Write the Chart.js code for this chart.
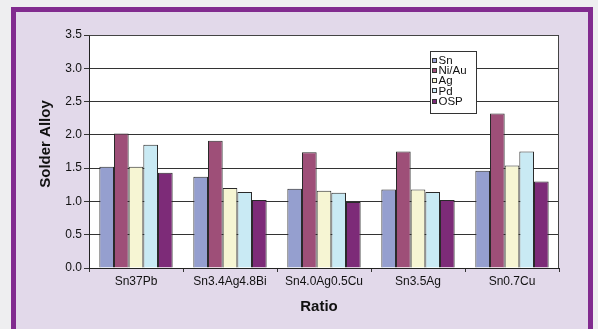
<!DOCTYPE html>
<html>
<head>
<meta charset="utf-8">
<script src="https://cdn.jsdelivr.net/npm/chart.js@4/dist/chart.umd.min.js"></script>
<style>
  html, body { margin: 0; padding: 0; background: #eeeef0; width: 598px; height: 329px; overflow: hidden; }
  .frame {
    position: absolute; left: 11px; top: 7px;
    width: 572px; height: 400px;
    border: 5px solid #812b8f; border-bottom: none;
    background: #e2d9ea;
  }
  .box { position: absolute; left: 0; top: 0; width: 572px; height: 316px; }
</style>
</head>
<body>
<div class="frame">
  <div class="box"><canvas id="c"></canvas></div>
</div>
<script>
// Solder alloys on the x axis, one bar per surface finish
const categories = ['Sn37Pb', 'Sn3.4Ag4.8Bi', 'Sn4.0Ag0.5Cu', 'Sn3.5Ag', 'Sn0.7Cu'];
const seriesNames = ['Sn', 'Ni/Au', 'Ag', 'Pd', 'OSP'];
const snValues   = [1.52, 1.37, 1.19, 1.18, 1.46];
const niauValues = [2.02, 1.91, 1.74, 1.75, 2.32];
const agValues   = [1.52, 1.20, 1.16, 1.18, 1.54];
const pdValues   = [1.85, 1.14, 1.13, 1.14, 1.75];
const ospValues  = [1.43, 1.02, 0.99, 1.02, 1.30];
const yTicks = [0, 0.5, 1.0, 1.5, 2.0, 2.5, 3.0, 3.5];
const xTitle = 'Ratio';
const yTitle = 'Solder Alloy';

const colors = ['#959fcf', '#9e4f78', '#f6f5d3', '#c9eaf4', '#7d2b78'];
const allValues = [snValues, niauValues, agValues, pdValues, ospValues];

const FONT = 'Liberation Sans, Arial, Helvetica, sans-serif';

// White plot background plus the top/right frame of the plot area
const plotFrame = {
  id: 'plotFrame',
  beforeDraw(chart) {
    const { ctx, chartArea: a } = chart;
    ctx.save();
    ctx.fillStyle = '#ffffff';
    ctx.fillRect(a.left, a.top, a.right - a.left, a.bottom - a.top);
    ctx.restore();
  },
  afterDraw(chart) {
    const { ctx, chartArea: a } = chart;
    ctx.save();
    ctx.strokeStyle = '#444';
    ctx.lineWidth = 1;
    ctx.beginPath();
    ctx.moveTo(Math.round(a.left) + 0.5, Math.round(a.top) + 0.5);
    ctx.lineTo(Math.round(a.right) - 0.5, Math.round(a.top) + 0.5);
    ctx.lineTo(Math.round(a.right) - 0.5, Math.round(a.bottom));
    ctx.stroke();
    ctx.restore();
  }
};

// Axis titles, placed relative to the plot area
const axisTitles = {
  id: 'axisTitles',
  afterDraw(chart) {
    const { ctx, chartArea: a } = chart;
    ctx.save();
    ctx.fillStyle = '#111';
    ctx.font = 'bold 15px ' + FONT;
    ctx.textAlign = 'center';
    ctx.textBaseline = 'middle';
    ctx.fillText(xTitle, a.left + 230, a.bottom + 39);
    ctx.translate(a.left - 43, a.top + 109);
    ctx.rotate(-Math.PI / 2);
    ctx.fillText(yTitle, 0, 0);
    ctx.restore();
  }
};

// Boxed legend sitting inside the plot area, upper right
const boxLegend = {
  id: 'boxLegend',
  afterDraw(chart) {
    const { ctx, chartArea: a } = chart;
    const x = Math.round(a.left + 341) + 0.5;
    const y = Math.round(a.top + 16) + 0.5;
    const w = 46, h = 62;
    ctx.save();
    ctx.fillStyle = '#ffffff';
    ctx.fillRect(x, y, w, h);
    ctx.strokeStyle = '#333';
    ctx.lineWidth = 1;
    ctx.strokeRect(x, y, w, h);
    ctx.font = '11.5px ' + FONT;
    ctx.textBaseline = 'middle';
    chart.data.datasets.forEach((ds, i) => {
      const cy = y + 9 + i * 10.3;
      ctx.fillStyle = ds.backgroundColor;
      ctx.fillRect(x + 2, Math.round(cy - 3) + 0.5, 4, 4);
      ctx.strokeStyle = '#333';
      ctx.strokeRect(x + 2, Math.round(cy - 3) + 0.5, 4, 4);
      ctx.fillStyle = '#111';
      ctx.fillText(ds.label, x + 8, cy);
    });
    ctx.restore();
  }
};

new Chart(document.getElementById('c'), {
  type: 'bar',
  data: {
    labels: categories,
    datasets: seriesNames.map((name, i) => ({
      label: name,
      data: allValues[i],
      backgroundColor: colors[i],
      borderColor: '#2a2a2a',
      borderWidth: 1,
      categoryPercentage: 0.78,
      barPercentage: 1.0
    }))
  },
  options: {
    responsive: true,
    maintainAspectRatio: false,
    animation: false,
    layout: { padding: { top: 23, right: 29, left: 0, bottom: 0 } },
    plugins: {
      legend: { display: false },
      tooltip: { enabled: false }
    },
    scales: {
      x: {
        offset: true,
        grid: { offset: true, drawOnChartArea: false, tickLength: 4, color: '#333' },
        border: { color: '#222' },
        ticks: { font: { family: FONT, size: 12 }, color: '#111', padding: 2, maxRotation: 0 },
        afterFit(scale) { scale.height = 60; }
      },
      y: {
        min: 0, max: 3.5,
        afterBuildTicks(scale) { scale.ticks = yTicks.map(v => ({ value: v })); },
        grid: { color: '#333', tickLength: 5 },
        border: { color: '#222' },
        ticks: {
          font: { family: FONT, size: 12 }, color: '#111', padding: 2,
          callback: v => Number(v).toFixed(1)
        },
        afterFit(scale) { scale.width = 73; }
      }
    }
  },
  plugins: [plotFrame, axisTitles, boxLegend]
});
</script>
</body>
</html>
